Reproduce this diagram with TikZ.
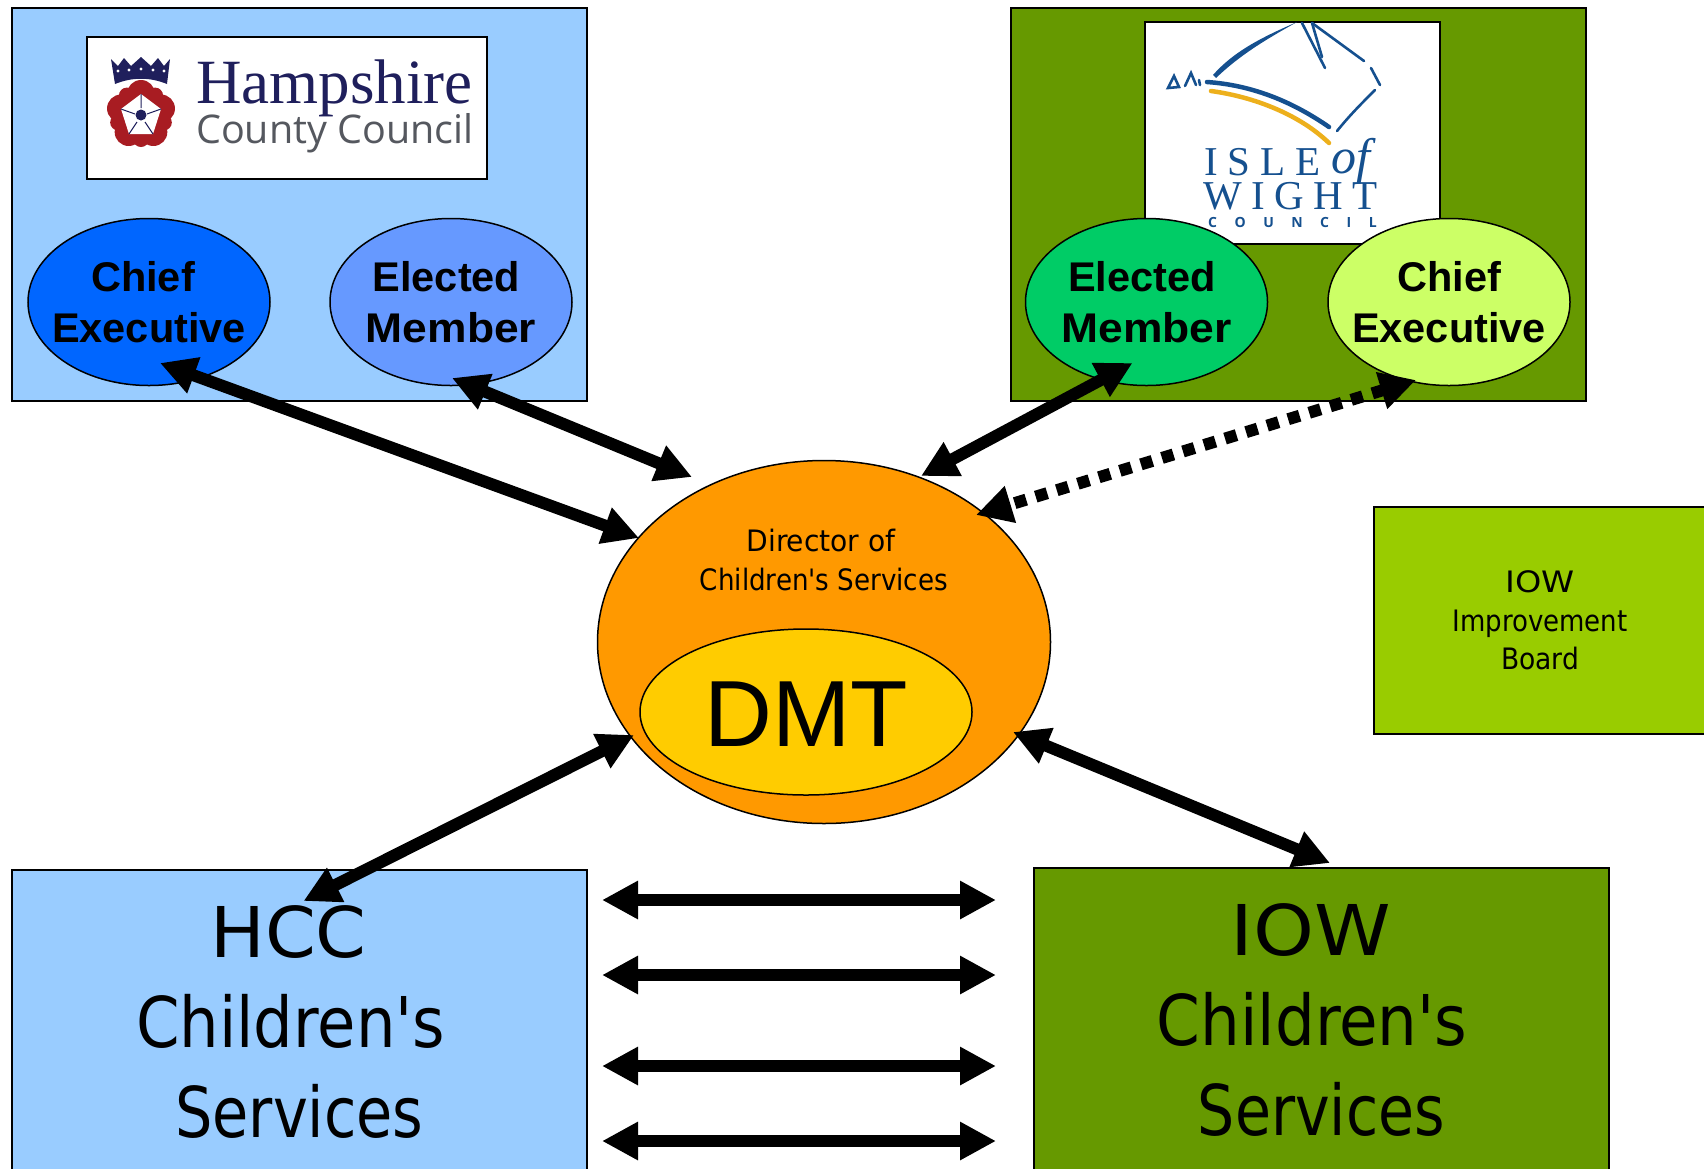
\documentclass[tikz,border=0pt]{standalone}
\usepackage{fontspec}
\setmainfont{DejaVu Sans Condensed}
\newfontfamily\boldarial{Liberation Sans}[BoldFont={Liberation Sans Bold}]
\newfontfamily\logoserif{Liberation Serif}
\newfontfamily\logosans{Open Sans}
\usetikzlibrary{arrows.meta,shapes.geometric}
\definecolor{hccblue}{HTML}{99CCFF}
\definecolor{iowgreen}{HTML}{669900}
\definecolor{chiefblue}{HTML}{0066FF}
\definecolor{electblue}{HTML}{6699FF}
\definecolor{electgreen}{HTML}{00CC66}
\definecolor{chieflime}{HTML}{CCFF66}
\definecolor{dirorange}{HTML}{FF9900}
\definecolor{dmtyellow}{HTML}{FFCC00}
\definecolor{boardgreen}{HTML}{99CC00}
\definecolor{logonavy}{HTML}{1F1F5C}
\definecolor{logogrey}{HTML}{55585F}
\definecolor{logored}{HTML}{A81C22}
\definecolor{wightblue}{HTML}{15508F}
\definecolor{wightgold}{HTML}{EDB01C}
\tikzset{
  panel/.style={draw=black,line width=2pt,minimum width=#1,inner sep=0pt,anchor=north west},
  logobox/.style={draw=black,line width=2pt,fill=white,inner sep=0pt,anchor=north west},
  person/.style={ellipse,draw=black,line width=1.5pt,minimum width=242pt,minimum height=167pt,inner sep=0pt},
  persontext/.style={align=center,inner sep=0pt,font=\boldarial\bfseries\fontsize{41.5}{51}\selectfont},
  twoway/.style={line width=12pt,{Triangle[length=36pt,width=36pt]}-{Triangle[length=36pt,width=36pt]}},
  bigtext/.style={align=center,font=\fontsize{70}{90}\selectfont,inner sep=0pt},
  smalltext/.style={align=center,font=\fontsize{29.5}{38.5}\selectfont,inner sep=0pt},
  wthick/.style={draw=wightblue,line width=4.5pt,line cap=round},
  wthin/.style={draw=wightblue,line width=2.6pt,line cap=round}
}
\begin{document}
\begin{tikzpicture}[x=1pt,y=-1pt]
\clip (0,0) rectangle (1704,1168);
\fill[white] (0,0) rectangle (1704,1168);
% panels
\node[panel=575pt,minimum height=393pt,fill=hccblue] (hcctop) at (10.5,6.5) {};
\node[panel=575pt,minimum height=393pt,fill=iowgreen] (iowtop) at (1009.5,6.5) {};
\node[panel=340pt,minimum height=226.5pt,fill=boardgreen] (board) at (1372.5,506) {};
\node[panel=575pt,minimum height=340pt,fill=hccblue] (hcc) at (10.5,869) {};
\node[panel=575pt,minimum height=340pt,fill=iowgreen] (iow) at (1032.5,867) {};
% logo boxes
\node[logobox,minimum width=400pt,minimum height=142pt] (hlogo) at (85.5,35.5) {};
\node[logobox,minimum width=295pt,minimum height=222pt] (wlogo) at (1143.5,20.5) {};
% Hampshire logo
\fill[logonavy] (111,59) -- (118,66) -- (124,58) -- (131,66) -- (141,57) -- (151,66) -- (158,58) -- (164,66) -- (170,59) -- (167,84) .. controls (150,77) and (132,77) .. (115,84) -- cycle;
\fill[white] (118,71) circle (1.7) (129,70) circle (1.7) (141,69) circle (1.7) (153,70) circle (1.7) (164,71) circle (1.7);
\foreach \a in {0,72,144,216,288}{\fill[logored] (141,115) ++(\a-90:21) circle (14);}
\foreach \a in {36,108,180,252,324}{\fill[logored] (141,115) ++(\a-90:24) circle (8);}
\fill[white] (141,94) -- (161,109) -- (153,134) -- (129,134) -- (121,109) -- cycle;
\draw[logonavy,line width=1pt] (141,94) -- (141,108) (161,109) -- (147,114) (153,134) -- (145,122) (129,134) -- (137,122) (121,109) -- (135,114);
\fill[logonavy] (141,115) circle (5.5);
\node[anchor=base west,inner sep=0pt,text=logonavy,font=\logoserif\fontsize{63}{63}\selectfont] (hname) at (196,103.5) {Hampshire};
\node[anchor=base west,inner sep=0pt,text=logogrey,font=\logosans\fontsize{39.5}{39.5}\selectfont] (hsub) at (196,143.5) {County Council};
% Isle of Wight logo
\fill[wightblue] (1213,75) .. controls (1235,50) and (1265,36) .. (1297,22) .. controls (1265,40) and (1240,55) .. (1216,78) -- cycle;
\draw[wthin] (1302,23) -- (1325,68);
\draw[wthin] (1312,23) -- (1322,57);
\draw[wthin] (1312,23) -- (1364,61);
\draw[wthin] (1371,68) -- (1380,85);
\draw[wthin] (1375,90) .. controls (1360,105) and (1350,115) .. (1337,131);
\draw[wthick] (1207,82) .. controls (1250,85) and (1290,100) .. (1329,127);
\draw[draw=wightgold,line width=4.5pt,line cap=round] (1211,91) .. controls (1255,97) and (1300,115) .. (1329,143);
\draw[wthin] (1168,88) -- (1174,76) -- (1179,87) -- cycle (1185,86) -- (1191,73) -- (1196,85) (1199,80) -- (1200,85);
\node[anchor=base west,inner sep=0pt,text=wightblue,font=\logoserif\fontsize{41}{41}\selectfont] (wisle) at (1204,175) {I\hspace{10pt}S\hspace{10pt}L\hspace{10pt}E};
\node[anchor=base west,inner sep=0pt,text=wightblue,font=\logoserif\itshape\fontsize{50}{50}\selectfont] (wof) at (1331,173) {of};
\node[anchor=base west,inner sep=0pt,text=wightblue,font=\logoserif\fontsize{41}{41}\selectfont] (wwight) at (1203,209) {W\hspace{9.5pt}I\hspace{9.5pt}G\hspace{9.5pt}H\hspace{9.5pt}T};
\node[anchor=base west,inner sep=0pt,text=wightblue,font=\logosans\bfseries\fontsize{14}{14}\selectfont] (wcouncil) at (1208,227) {C\hspace{17.5pt}O\hspace{17.5pt}U\hspace{17.5pt}N\hspace{17.5pt}C\hspace{17.5pt}I\hspace{17.5pt}L};
% people
\node[person,fill=chiefblue,label={[persontext]center:Chief\hspace*{12pt}\\Executive}] (chief1) at (149,302) {};
\node[person,fill=electblue,label={[persontext]center:Elected\hspace*{9pt}\\\scalebox{1.07}[1]{Member}}] (elect1) at (451,302) {};
\node[person,fill=electgreen,label={[persontext]center:Elected\hspace*{9pt}\\\scalebox{1.07}[1]{Member}}] (elect2) at (1146.5,302) {};
\node[person,fill=chieflime,label={[persontext]center:Chief\\Executive}] (chief2) at (1449,302) {};
% centre
\node[ellipse,draw=black,line width=1.5pt,fill=dirorange,minimum width=453pt,minimum height=363pt,inner sep=0pt] (dir) at (824,642) {};
\node[smalltext] (dirtext) at (824,560) {\scalebox{1.06}[1]{Director of}\hspace*{6pt}\\\scalebox{.985}[1]{Children\textquotesingle s Services}};
\node[ellipse,draw=black,line width=1.5pt,fill=dmtyellow,minimum width=332pt,minimum height=166pt,inner sep=0pt,label={[inner sep=0pt,yshift=-2pt,font=\boldarial\fontsize{94}{94}\selectfont]center:DMT}] (dmt) at (806,712) {};
% text
\node[smalltext] (boardtext) at (1540,620.5) {\scalebox{1.26}[1]{IOW}\\\scalebox{.98}[1]{Improvement}\\Board};
\node[bigtext] (hcctext) at (290.7,1021.5) {\scalebox{1.155}[1]{HCC}\hspace*{4.4pt}\\\scalebox{.99}[1]{Children\textquotesingle s}\\\hspace*{17.4pt}\scalebox{.935}[1]{Services}};
\node[bigtext] (iowtext) at (1312.2,1020) {\scalebox{1.23}[1]{IOW}\hspace*{2.2pt}\\\scalebox{.995}[1]{Children\textquotesingle s}\\\hspace*{18.4pt}\scalebox{.93}[1]{Services}};
% free ends
\coordinate (a1a) at ([shift={(11,61)}]chief1.center);
\coordinate (a1b) at ([shift={(-185,-104)}]dir.center);
\coordinate (a2a) at ([shift={(1,76)}]elect1.center);
\coordinate (a2b) at ([shift={(-132,-165)}]dir.center);
\coordinate (a3a) at ([shift={(-14,61)}]elect2.center);
\coordinate (a3b) at ([shift={(97,-166)}]dir.center);
\coordinate (a4a) at ([shift={(-33,78)}]chief2.center);
\coordinate (a4b) at ([shift={(152,-127)}]dir.center);
\coordinate (a5a) at ([shift={(-190,93)}]dir.center);
\coordinate (a5b) at ([shift={(-284,32)}]hcc.north east);
\coordinate (a6a) at ([shift={(189,90)}]dir.center);
\coordinate (a6b) at ([shift={(-279.5,-4)}]iow.north east);
\coordinate (h1a) at (602,900); \coordinate (h1b) at (996,900);
\coordinate (h2a) at (602,975); \coordinate (h2b) at (996,975);
\coordinate (h3a) at (602,1066); \coordinate (h3b) at (996,1066);
\coordinate (h4a) at (602,1141); \coordinate (h4b) at (996,1141);
% connectors
\draw[twoway] (a1a) -- (a1b);
\draw[twoway] (a2a) -- (a2b);
\draw[twoway] (a3a) -- (a3b);
\draw[twoway,dash pattern=on 12pt off 10pt] (a4a) -- (a4b);
\draw[twoway] (a5a) -- (a5b);
\draw[twoway] (a6a) -- (a6b);
\draw[twoway] (h1a) -- (h1b);
\draw[twoway] (h2a) -- (h2b);
\draw[twoway] (h3a) -- (h3b);
\draw[twoway] (h4a) -- (h4b);
\end{tikzpicture}
\end{document}
